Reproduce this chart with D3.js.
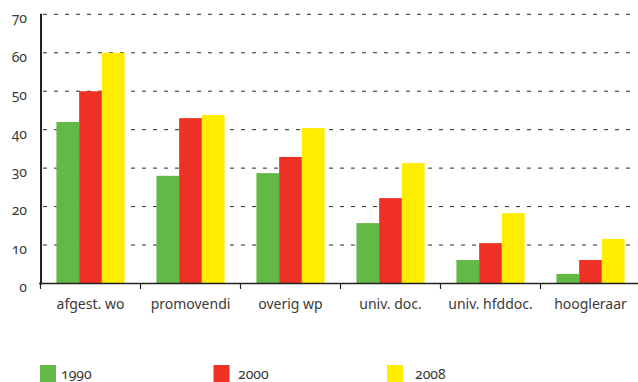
<!DOCTYPE html>
<html>
<head>
<meta charset="utf-8">
<script src="https://cdn.jsdelivr.net/npm/d3@7"></script>
<style>
  html, body { margin: 0; padding: 0; background: #fff; }
  svg { display: block; }
  text { font-family: "Noto Sans", "Open Sans", sans-serif; fill: #3a3a3a;
         font-variant-numeric: oldstyle-nums; font-feature-settings: "onum" 1; }
</style>
</head>
<body>
<svg id="chart" width="638" height="382"></svg>
<script>
// Staff categories and counts per year
const categories = ["afgest. wo", "promovendi", "overig wp", "univ. doc.", "univ. hfddoc.", "hoogleraar"];
const years = ["1990", "2000", "2008"];
const values1990 = [42, 28, 28.7, 15.7, 6.1, 2.5];
const values2000 = [50, 43, 32.9, 22.2, 10.5, 6.1];
const values2008 = [60, 43.8, 40.4, 31.3, 18.3, 11.6];
const yTicks = [0, 10, 20, 30, 40, 50, 60, 70];
const colors = ["#62b946", "#ee3124", "#ffed00"];

const series = [values1990, values2000, values2008];

const svg = d3.select("#chart");

const x0 = d3.scaleBand().domain(categories).range([40.5, 640.5]).paddingInner(0).paddingOuter(0);
const x1 = d3.scaleBand().domain(years).range([0, x0.bandwidth()]).paddingInner(0).paddingOuter(0.7);
const y = d3.scaleLinear().domain([0, 70]).range([283.5, 14.3]);
const color = d3.scaleOrdinal().domain(years).range(colors);

// dashed grid lines
svg.append("g")
  .selectAll("line")
  .data(yTicks.filter(d => d > 0))
  .join("line")
  .attr("x1", 41).attr("x2", 632)
  .attr("y1", d => y(d)).attr("y2", d => y(d))
  .attr("stroke", "#2a2a2a")
  .attr("stroke-width", 1)
  .attr("stroke-dasharray", "4,7")
  .attr("stroke-dashoffset", -2);

// bars
const groups = svg.append("g")
  .selectAll("g")
  .data(categories)
  .join("g")
  .attr("transform", d => `translate(${x0(d)},0)`);

groups.selectAll("rect")
  .data((c, i) => years.map((yr, k) => ({ yr, v: series[k][i] })))
  .join("rect")
  .attr("x", d => x1(d.yr))
  .attr("width", x1.bandwidth())
  .attr("y", d => y(d.v))
  .attr("height", d => y(0) - y(d.v))
  .attr("fill", d => color(d.yr));

// y axis labels
const yAxis = svg.append("g")
  .attr("transform", "translate(41,0)")
  .call(d3.axisLeft(y).tickValues(yTicks).tickFormat(d3.format("d")).tickSize(0).tickPadding(14));
yAxis.select(".domain").remove();
yAxis.selectAll("text")
  .attr("dy", "0.6em")
  .style("font-size", "14px")
  .style("font-family", null)
  .attr("fill", "#3a3a3a");

// vertical axis line
svg.append("line")
  .attr("x1", 41).attr("x2", 41)
  .attr("y1", y(70) - 0.5).attr("y2", y(0) + 1)
  .attr("stroke", "#222").attr("stroke-width", 2);

// x axis
const xAxis = svg.append("g")
  .attr("transform", `translate(0,${y(0)})`)
  .call(d3.axisBottom(x0).tickSize(0).tickPadding(16));
xAxis.select(".domain").remove();
xAxis.selectAll("text")
  .style("font-size", "14px")
  .style("font-family", null)
  .attr("fill", "#3a3a3a");

svg.append("line")
  .attr("x1", 39).attr("x2", 638)
  .attr("y1", y(0)).attr("y2", y(0))
  .attr("stroke", "#222").attr("stroke-width", 1.5);

// category separators below the axis
svg.append("g")
  .selectAll("line")
  .data(categories)
  .join("line")
  .attr("x1", d => x0(d)).attr("x2", d => x0(d))
  .attr("y1", y(0)).attr("y2", y(0) + 5.5)
  .attr("stroke", "#222").attr("stroke-width", 1.2);

// legend: swatches and labels along the bottom edge
const legendX = d3.scalePoint().domain(years).range([40, 387]);
const legendTextX = d3.scalePoint().domain(years).range([61, 415]);
const legend = svg.append("g");
legend.selectAll("rect")
  .data(years)
  .join("rect")
  .attr("x", d => legendX(d))
  .attr("y", 365)
  .attr("width", 16).attr("height", 17)
  .attr("fill", d => color(d));
legend.selectAll("text")
  .data(years)
  .join("text")
  .attr("x", d => legendTextX(d))
  .attr("y", 379)
  .style("font-size", "14px")
  .text(d => d);
</script>
</body>
</html>
